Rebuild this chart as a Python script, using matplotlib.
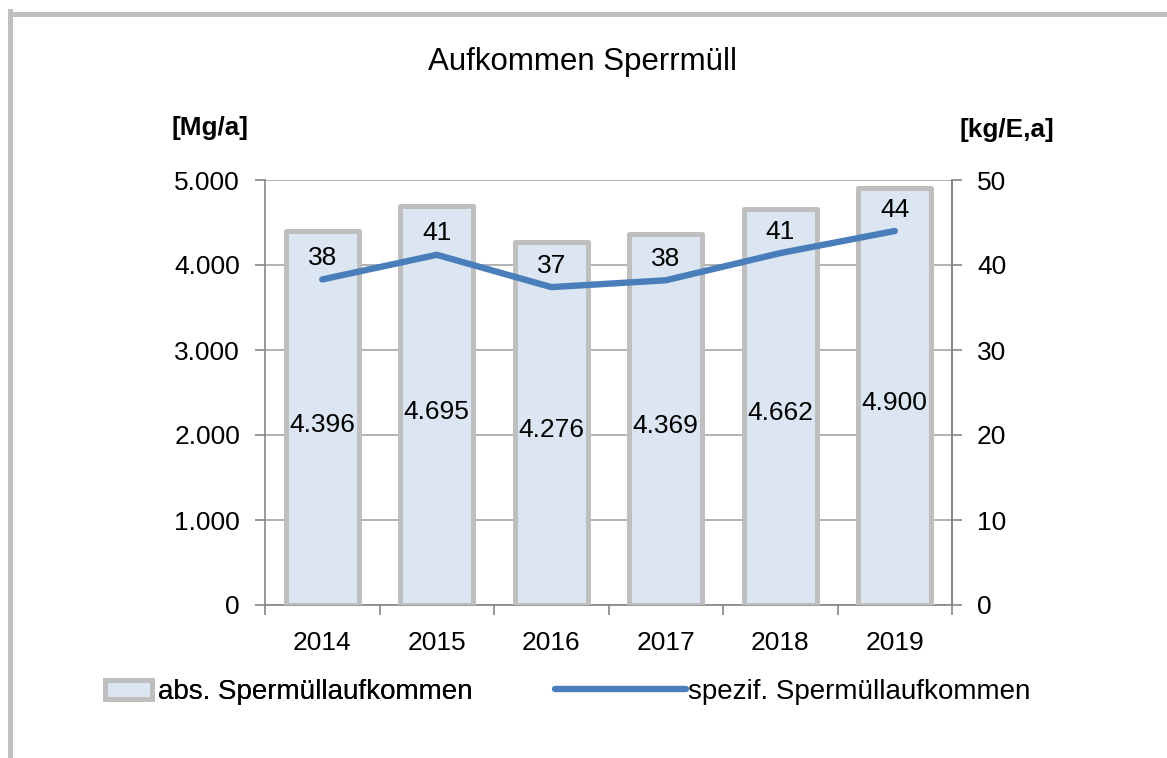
import matplotlib
matplotlib.use("Agg")
import matplotlib.pyplot as plt
from matplotlib.patches import Patch
from matplotlib.lines import Line2D
import numpy as np

plt.rcParams['font.family'] = ['Liberation Sans', 'DejaVu Sans']

years = ["2014", "2015", "2016", "2017", "2018", "2019"]
abs_values = [4396, 4695, 4276, 4369, 4662, 4900]
spez_values = [38.3, 41.2, 37.4, 38.2, 41.4, 44.0]
spez_labels = ["38", "41", "37", "38", "41", "44"]
left_ticks = [0, 1000, 2000, 3000, 4000, 5000]
right_ticks = [0, 10, 20, 30, 40, 50]

def de_fmt(v):
    return f"{v:,.0f}".replace(",", ".")

W, H = 1167, 758
fig = plt.figure(figsize=(W / 100, H / 100), dpi=100)
ax = fig.add_axes([265 / W, 1 - 605 / H, (952 - 265) / W, (605 - 180) / H])
ax2 = ax.twinx()

x = np.arange(len(years))
bar_fill = '#dce6f2'
bar_edge = '#bfbfbf'
line_col = '#4a7ebb'
axis_col = '#868686'
grid_col = '#a6a6a6'

ax.bar(x, abs_values, width=0.64, color=bar_fill, edgecolor=bar_edge,
       linewidth=3.6, joinstyle='round', zorder=3)
for xi, v in zip(x, abs_values):
    ax.annotate(de_fmt(v), (xi, v / 2), xytext=(0, -9.7), textcoords='offset points',
                ha='center', va='baseline', fontsize=19, zorder=4)

ax.set_ylim(0, 5000)
ax.set_xlim(-0.5, len(years) - 0.5)
ax.set_yticks(left_ticks)
ax.set_yticklabels([de_fmt(t) for t in left_ticks])
ax.set_xticks(np.arange(-0.5, len(years), 1.0))
ax.set_xticklabels([])
ax.set_xticks(x, minor=True)
ax.set_xticklabels(years, minor=True)
ax.tick_params(axis='x', which='major', length=7, width=1.2, color=axis_col, direction='out')
ax.tick_params(axis='x', which='minor', length=0, pad=18.5, labelsize=19)
ax.tick_params(axis='y', length=7, width=1.2, color=axis_col, direction='out', pad=11, labelsize=19)
ax.yaxis.grid(True, color=grid_col, linewidth=1.2, zorder=0)
ax.set_axisbelow(True)
ax.spines['top'].set_visible(False)
for s in ['left', 'bottom', 'right']:
    ax.spines[s].set_color(axis_col)
    ax.spines[s].set_linewidth(1.2)

ax2.plot(x, spez_values, color=line_col, linewidth=4.6, solid_capstyle='round',
         solid_joinstyle='round', zorder=5)
for xi, v, lab in zip(x, spez_values, spez_labels):
    ax2.annotate(lab, (xi, v), xytext=(0, 10.3), textcoords='offset points',
                 ha='center', va='baseline', fontsize=19)
ax2.set_ylim(0, 50)
ax2.set_yticks(right_ticks)
ax2.tick_params(axis='y', length=7, width=1.2, color=axis_col, direction='out', pad=11, labelsize=19)
for s in ['top', 'left', 'bottom']:
    ax2.spines[s].set_visible(False)
ax2.spines['right'].set_color(axis_col)
ax2.spines['right'].set_linewidth(1.2)

fig.text(583 / W, 1 - 62 / H, "Aufkommen Sperrmüll", ha='center', va='center', fontsize=22.5)
fig.text(210 / W, 1 - 128 / H, "[Mg/a]", ha='center', va='center', fontsize=18.8, fontweight='bold')
fig.text(1007 / W, 1 - 130 / H, "[kg/E,a]", ha='center', va='center', fontsize=18.8, fontweight='bold')

leg1 = fig.legend([Patch(facecolor=bar_fill, edgecolor=bar_edge, linewidth=3.6, joinstyle='round')],
                  ["abs. Spermüllaufkommen"], loc='center left',
                  bbox_to_anchor=(105 / W, 1 - 692 / H), frameon=False, fontsize=20,
                  handlelength=1.7, handleheight=0.7, handletextpad=0.2,
                  borderpad=0, borderaxespad=0)
fig.add_artist(leg1)
fig.legend([Line2D([0], [0], color=line_col, linewidth=4.6, solid_capstyle='round')],
           ["spezif. Spermüllaufkommen"], loc='center left',
           bbox_to_anchor=(555 / W, 1 - 692 / H), frameon=False, fontsize=20,
           handlelength=4.7, handletextpad=0.1, borderpad=0, borderaxespad=0)

# outer frame
fig.add_artist(Line2D([9.5 / W, 9.5 / W], [0, 1 - 11 / H], color=bar_edge, linewidth=3.6,
                      transform=fig.transFigure, solid_capstyle='projecting'))
fig.add_artist(Line2D([9.5 / W, 1.0], [1 - 13.5 / H, 1 - 13.5 / H], color=bar_edge, linewidth=3.6,
                      transform=fig.transFigure, solid_capstyle='projecting'))

fig.savefig("out.png", dpi=100)
